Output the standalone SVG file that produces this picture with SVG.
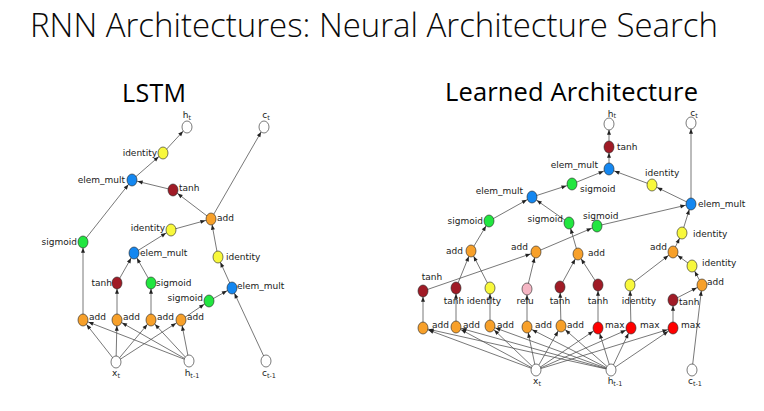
<svg xmlns="http://www.w3.org/2000/svg" width="764" height="411" viewBox="0 0 764 411">
  <style>
    .title { font-family: "Open Sans", "Liberation Sans", sans-serif; font-weight: 300; fill: #0a0a0a; }
    .head { font-family: "Open Sans", "Liberation Sans", sans-serif; fill: #000; }
    .lbl { font-family: "DejaVu Sans", sans-serif; font-size: 9px; fill: #1a1a1a; }
    .sub { font-family: "DejaVu Sans", sans-serif; font-size: 9px; fill: #1a1a1a; }
    .edge { stroke: #555; stroke-width: 0.8; fill: none; marker-end: url(#arr); }
    ellipse { stroke: #222; stroke-width: 0.6; }
    .w { fill: #fff; }
    .o { fill: #f7a02a; }
    .b { fill: #1487f0; }
    .g { fill: #22e640; }
    .y { fill: #f8f83c; }
    .d { fill: #a01b26; }
    .r { fill: #ff0000; }
    .p { fill: #f5b6c4; }
  </style>
  <defs>
    <marker id="arr" markerUnits="userSpaceOnUse" markerWidth="6" markerHeight="4" refX="10.8" refY="2" orient="auto" overflow="visible">
      <path d="M0,0 L5,2 L0,4 z" fill="#222"/>
    </marker>
  </defs>
  <rect width="764" height="411" fill="#fff"/>

  <text class="title" x="30" y="37" font-size="33" textLength="688" lengthAdjust="spacing">RNN Architectures: Neural Architecture Search</text>
  <text class="head" x="122" y="102" font-size="25" textLength="64" lengthAdjust="spacing">LSTM</text>
  <text class="head" x="445" y="101" font-size="25.5" textLength="253" lengthAdjust="spacing">Learned Architecture</text>

  <!-- connectors -->
  <g id="connectors">
    <!-- LSTM cell -->
    <line class="edge" x1="116" y1="362" x2="83" y2="320"/>
    <line class="edge" x1="116" y1="362" x2="117" y2="320"/>
    <line class="edge" x1="116" y1="362" x2="151" y2="320"/>
    <line class="edge" x1="116" y1="362" x2="181" y2="320"/>
    <line class="edge" x1="189" y1="361" x2="83" y2="320"/>
    <line class="edge" x1="189" y1="361" x2="117" y2="320"/>
    <line class="edge" x1="189" y1="361" x2="151" y2="320"/>
    <line class="edge" x1="189" y1="361" x2="181" y2="320"/>
    <line class="edge" x1="83" y1="320" x2="83" y2="242"/>
    <line class="edge" x1="117" y1="320" x2="117" y2="283"/>
    <line class="edge" x1="151" y1="320" x2="151" y2="283"/>
    <line class="edge" x1="181" y1="320" x2="209" y2="301"/>
    <line class="edge" x1="209" y1="301" x2="232" y2="288"/>
    <line class="edge" x1="266" y1="361" x2="232" y2="288"/>
    <line class="edge" x1="232" y1="288" x2="218" y2="257"/>
    <line class="edge" x1="218" y1="257" x2="211" y2="219"/>
    <line class="edge" x1="117" y1="283" x2="134" y2="253"/>
    <line class="edge" x1="151" y1="283" x2="134" y2="253"/>
    <line class="edge" x1="134" y1="253" x2="171" y2="230"/>
    <line class="edge" x1="171" y1="230" x2="211" y2="219"/>
    <line class="edge" x1="211" y1="219" x2="173" y2="190"/>
    <line class="edge" x1="211" y1="219" x2="264" y2="127"/>
    <line class="edge" x1="173" y1="190" x2="132" y2="180"/>
    <line class="edge" x1="83" y1="242" x2="132" y2="180"/>
    <line class="edge" x1="132" y1="180" x2="163" y2="153"/>
    <line class="edge" x1="163" y1="153" x2="187" y2="127"/>

    <!-- searched cell: inputs to first layer -->
    <line class="edge" x1="536" y1="370" x2="423" y2="328"/>
    <line class="edge" x1="536" y1="370" x2="456" y2="327"/>
    <line class="edge" x1="536" y1="370" x2="490" y2="326"/>
    <line class="edge" x1="536" y1="370" x2="527" y2="327"/>
    <line class="edge" x1="536" y1="370" x2="561" y2="326"/>
    <line class="edge" x1="536" y1="370" x2="598" y2="328"/>
    <line class="edge" x1="536" y1="370" x2="631" y2="328"/>
    <line class="edge" x1="536" y1="370" x2="673" y2="328"/>
    <line class="edge" x1="611" y1="370" x2="423" y2="328"/>
    <line class="edge" x1="611" y1="370" x2="456" y2="327"/>
    <line class="edge" x1="611" y1="370" x2="490" y2="326"/>
    <line class="edge" x1="611" y1="370" x2="527" y2="327"/>
    <line class="edge" x1="611" y1="370" x2="561" y2="326"/>
    <line class="edge" x1="611" y1="370" x2="598" y2="328"/>
    <line class="edge" x1="611" y1="370" x2="631" y2="328"/>
    <line class="edge" x1="611" y1="370" x2="673" y2="328"/>
    <!-- activations -->
    <line class="edge" x1="423" y1="328" x2="423" y2="291"/>
    <line class="edge" x1="456" y1="327" x2="456" y2="288"/>
    <line class="edge" x1="490" y1="326" x2="490" y2="288"/>
    <line class="edge" x1="527" y1="327" x2="527" y2="289"/>
    <line class="edge" x1="561" y1="326" x2="560" y2="287"/>
    <line class="edge" x1="598" y1="328" x2="598" y2="285"/>
    <line class="edge" x1="631" y1="328" x2="630" y2="285"/>
    <line class="edge" x1="673" y1="328" x2="673" y2="300"/>
    <!-- combinations -->
    <line class="edge" x1="456" y1="288" x2="471" y2="251"/>
    <line class="edge" x1="490" y1="288" x2="471" y2="251"/>
    <line class="edge" x1="423" y1="291" x2="536" y2="252"/>
    <line class="edge" x1="527" y1="289" x2="536" y2="252"/>
    <line class="edge" x1="560" y1="287" x2="578" y2="254"/>
    <line class="edge" x1="598" y1="285" x2="578" y2="254"/>
    <line class="edge" x1="630" y1="285" x2="673" y2="252"/>
    <line class="edge" x1="673" y1="300" x2="702" y2="285"/>
    <line class="edge" x1="692" y1="370" x2="702" y2="285"/>
    <line class="edge" x1="702" y1="285" x2="692" y2="266"/>
    <line class="edge" x1="692" y1="266" x2="673" y2="252"/>
    <line class="edge" x1="673" y1="252" x2="682" y2="233"/>
    <line class="edge" x1="682" y1="233" x2="691" y2="204"/>
    <line class="edge" x1="597" y1="226" x2="691" y2="204"/>
    <line class="edge" x1="691" y1="204" x2="691" y2="123"/>
    <line class="edge" x1="691" y1="204" x2="652" y2="185"/>
    <line class="edge" x1="652" y1="185" x2="609" y2="169"/>
    <line class="edge" x1="536" y1="252" x2="597" y2="226"/>
    <line class="edge" x1="578" y1="254" x2="569" y2="223"/>
    <line class="edge" x1="569" y1="223" x2="532" y2="197"/>
    <line class="edge" x1="471" y1="251" x2="489" y2="221"/>
    <line class="edge" x1="489" y1="221" x2="532" y2="197"/>
    <line class="edge" x1="532" y1="197" x2="572" y2="184"/>
    <line class="edge" x1="572" y1="184" x2="609" y2="169"/>
    <line class="edge" x1="609" y1="169" x2="609" y2="147"/>
    <line class="edge" x1="609" y1="147" x2="609" y2="124"/>
  </g>

  <!-- LSTM nodes -->
  <g id="lstm_ht"><ellipse class="w" cx="187" cy="127" rx="5" ry="6"/><text class="sub" x="187" y="118" text-anchor="middle">h<tspan font-size="6.5" dy="2">t</tspan></text></g>
  <g id="lstm_ct"><ellipse class="w" cx="264" cy="127" rx="5" ry="6"/><text class="sub" x="266" y="118" text-anchor="middle">c<tspan font-size="6.5" dy="2">t</tspan></text></g>
  <g id="lstm_identity_out"><ellipse class="y" cx="163" cy="153" rx="5" ry="6"/><text class="lbl" x="157" y="156" text-anchor="end">identity</text></g>
  <g id="lstm_mult_out"><ellipse class="b" cx="132" cy="180" rx="5" ry="6"/><text class="lbl" x="125" y="183" text-anchor="end">elem_mult</text></g>
  <g id="lstm_tanh_c"><ellipse class="d" cx="173" cy="190" rx="5" ry="6"/><text class="lbl" x="179" y="191">tanh</text></g>
  <g id="lstm_add_c"><ellipse class="o" cx="211" cy="219" rx="5" ry="6"/><text class="lbl" x="217" y="221">add</text></g>
  <g id="lstm_identity_in"><ellipse class="y" cx="171" cy="230" rx="5" ry="6"/><text class="lbl" x="165" y="231" text-anchor="end">identity</text></g>
  <g id="lstm_sigmoid_o"><ellipse class="g" cx="83" cy="242" rx="5" ry="6"/><text class="lbl" x="77" y="245" text-anchor="end">sigmoid</text></g>
  <g id="lstm_mult_in"><ellipse class="b" cx="134" cy="253" rx="5" ry="6"/><text class="lbl" x="140" y="256">elem_mult</text></g>
  <g id="lstm_identity_f"><ellipse class="y" cx="218" cy="257" rx="5" ry="6"/><text class="lbl" x="226" y="260">identity</text></g>
  <g id="lstm_tanh_g"><ellipse class="d" cx="117" cy="283" rx="5" ry="6"/><text class="lbl" x="112" y="286" text-anchor="end">tanh</text></g>
  <g id="lstm_sigmoid_i"><ellipse class="g" cx="151" cy="283" rx="5" ry="6"/><text class="lbl" x="156" y="286">sigmoid</text></g>
  <g id="lstm_mult_f"><ellipse class="b" cx="232" cy="288" rx="5" ry="6"/><text class="lbl" x="237" y="289">elem_mult</text></g>
  <g id="lstm_sigmoid_f"><ellipse class="g" cx="209" cy="301" rx="5" ry="6"/><text class="lbl" x="203" y="301" text-anchor="end">sigmoid</text></g>
  <g id="lstm_add_o"><ellipse class="o" cx="83" cy="320" rx="5" ry="6"/><text class="lbl" x="89" y="320">add</text></g>
  <g id="lstm_add_g"><ellipse class="o" cx="117" cy="320" rx="5" ry="6"/><text class="lbl" x="123" y="320">add</text></g>
  <g id="lstm_add_i"><ellipse class="o" cx="151" cy="320" rx="5" ry="6"/><text class="lbl" x="157" y="320">add</text></g>
  <g id="lstm_add_f"><ellipse class="o" cx="181" cy="320" rx="5" ry="6"/><text class="lbl" x="187" y="320">add</text></g>
  <g id="lstm_xt"><ellipse class="w" cx="116" cy="362" rx="5" ry="6"/><text class="sub" x="116" y="376" text-anchor="middle">x<tspan font-size="6.5" dy="2">t</tspan></text></g>
  <g id="lstm_htm1"><ellipse class="w" cx="189" cy="361" rx="5" ry="6"/><text class="sub" x="192" y="376" text-anchor="middle">h<tspan font-size="6.5" dy="2">t-1</tspan></text></g>
  <g id="lstm_ctm1"><ellipse class="w" cx="266" cy="361" rx="5" ry="6"/><text class="sub" x="269" y="376" text-anchor="middle">c<tspan font-size="6.5" dy="2">t-1</tspan></text></g>

  <!-- searched cell nodes -->
  <g id="nas_ht"><ellipse class="w" cx="609" cy="124" rx="5" ry="6"/><text class="sub" x="612" y="116.5" font-size="8.5" text-anchor="middle">h<tspan font-size="6.5" dy="1.5">t</tspan></text></g>
  <g id="nas_ct"><ellipse class="w" cx="691" cy="123" rx="5" ry="6"/><text class="sub" x="694" y="116" font-size="8.5" text-anchor="middle">c<tspan font-size="6.5" dy="1.5">t</tspan></text></g>
  <g id="nas_tanh_out"><ellipse class="d" cx="609" cy="147" rx="5" ry="6"/><text class="lbl" x="617" y="150">tanh</text></g>
  <g id="nas_mult_out"><ellipse class="b" cx="609" cy="169" rx="5" ry="6"/><text class="lbl" x="598" y="168" text-anchor="end">elem_mult</text></g>
  <g id="nas_sigmoid_a"><ellipse class="g" cx="572" cy="184" rx="5" ry="6"/><text class="lbl" x="580" y="192">sigmoid</text></g>
  <g id="nas_identity_a"><ellipse class="y" cx="652" cy="185" rx="5" ry="6"/><text class="lbl" x="645" y="176">identity</text></g>
  <g id="nas_mult_a"><ellipse class="b" cx="532" cy="197" rx="5" ry="6"/><text class="lbl" x="523" y="194" text-anchor="end">elem_mult</text></g>
  <g id="nas_mult_c"><ellipse class="b" cx="691" cy="204" rx="5" ry="6"/><text class="lbl" x="698" y="207">elem_mult</text></g>
  <g id="nas_sigmoid_b"><ellipse class="g" cx="489" cy="221" rx="5" ry="6"/><text class="lbl" x="483" y="224" text-anchor="end">sigmoid</text></g>
  <g id="nas_sigmoid_c"><ellipse class="g" cx="569" cy="223" rx="5" ry="6"/><text class="lbl" x="563" y="222" text-anchor="end">sigmoid</text></g>
  <g id="nas_sigmoid_d"><ellipse class="g" cx="597" cy="226" rx="5" ry="6"/><text class="lbl" x="583" y="219">sigmoid</text></g>
  <g id="nas_identity_b"><ellipse class="y" cx="682" cy="233" rx="5" ry="6"/><text class="lbl" x="693" y="237">identity</text></g>
  <g id="nas_add_a"><ellipse class="o" cx="471" cy="251" rx="5" ry="6"/><text class="lbl" x="463" y="254" text-anchor="end">add</text></g>
  <g id="nas_add_b"><ellipse class="o" cx="536" cy="252" rx="5" ry="6"/><text class="lbl" x="528" y="250" text-anchor="end">add</text></g>
  <g id="nas_add_c"><ellipse class="o" cx="578" cy="254" rx="5" ry="6"/><text class="lbl" x="588" y="256">add</text></g>
  <g id="nas_add_d"><ellipse class="o" cx="673" cy="252" rx="5" ry="6"/><text class="lbl" x="667" y="250" text-anchor="end">add</text></g>
  <g id="nas_identity_c"><ellipse class="y" cx="692" cy="266" rx="5" ry="6"/><text class="lbl" x="702" y="266">identity</text></g>
  <g id="nas_add_e"><ellipse class="o" cx="702" cy="285" rx="5" ry="6"/><text class="lbl" x="707" y="285">add</text></g>
  <g id="nas_tanh_a"><ellipse class="d" cx="423" cy="291" rx="5" ry="6"/><text class="lbl" x="432" y="280" text-anchor="middle">tanh</text></g>
  <g id="nas_tanh_b"><ellipse class="d" cx="456" cy="288" rx="5" ry="6"/><text class="lbl" x="454" y="304" text-anchor="middle">tanh</text></g>
  <g id="nas_identity_d"><ellipse class="y" cx="490" cy="288" rx="5" ry="6"/><text class="lbl" x="484" y="304" text-anchor="middle">identity</text></g>
  <g id="nas_relu"><ellipse class="p" cx="527" cy="289" rx="5" ry="6"/><text class="lbl" x="525" y="304" text-anchor="middle">relu</text></g>
  <g id="nas_tanh_c"><ellipse class="d" cx="560" cy="287" rx="5" ry="6"/><text class="lbl" x="560" y="304" text-anchor="middle">tanh</text></g>
  <g id="nas_tanh_d"><ellipse class="d" cx="598" cy="285" rx="5" ry="6"/><text class="lbl" x="598" y="304" text-anchor="middle">tanh</text></g>
  <g id="nas_identity_e"><ellipse class="y" cx="630" cy="285" rx="5" ry="6"/><text class="lbl" x="639" y="304" text-anchor="middle">identity</text></g>
  <g id="nas_tanh_e"><ellipse class="d" cx="673" cy="300" rx="5" ry="6"/><text class="lbl" x="679" y="305">tanh</text></g>
  <g id="nas_in_add1"><ellipse class="o" cx="423" cy="328" rx="5" ry="6"/><text class="lbl" x="432" y="328">add</text></g>
  <g id="nas_in_add2"><ellipse class="o" cx="456" cy="327" rx="5" ry="6"/><text class="lbl" x="463" y="328">add</text></g>
  <g id="nas_in_add3"><ellipse class="o" cx="490" cy="326" rx="5" ry="6"/><text class="lbl" x="497" y="328">add</text></g>
  <g id="nas_in_add4"><ellipse class="o" cx="527" cy="327" rx="5" ry="6"/><text class="lbl" x="535" y="328">add</text></g>
  <g id="nas_in_add5"><ellipse class="o" cx="561" cy="326" rx="5" ry="6"/><text class="lbl" x="567" y="328">add</text></g>
  <g id="nas_in_max1"><ellipse class="r" cx="598" cy="328" rx="5" ry="6"/><text class="lbl" x="605" y="328">max</text></g>
  <g id="nas_in_max2"><ellipse class="r" cx="631" cy="328" rx="5" ry="6"/><text class="lbl" x="640" y="328">max</text></g>
  <g id="nas_in_max3"><ellipse class="r" cx="673" cy="328" rx="5" ry="6"/><text class="lbl" x="681" y="328">max</text></g>
  <g id="nas_xt"><ellipse class="w" cx="536" cy="370" rx="5" ry="6"/><text class="sub" x="537" y="384" text-anchor="middle">x<tspan font-size="6.5" dy="2">t</tspan></text></g>
  <g id="nas_htm1"><ellipse class="w" cx="611" cy="370" rx="5" ry="6"/><text class="sub" x="615" y="384" text-anchor="middle">h<tspan font-size="6.5" dy="2">t-1</tspan></text></g>
  <g id="nas_ctm1"><ellipse class="w" cx="692" cy="370" rx="5" ry="6"/><text class="sub" x="695" y="384" text-anchor="middle">c<tspan font-size="6.5" dy="2">t-1</tspan></text></g>
</svg>
